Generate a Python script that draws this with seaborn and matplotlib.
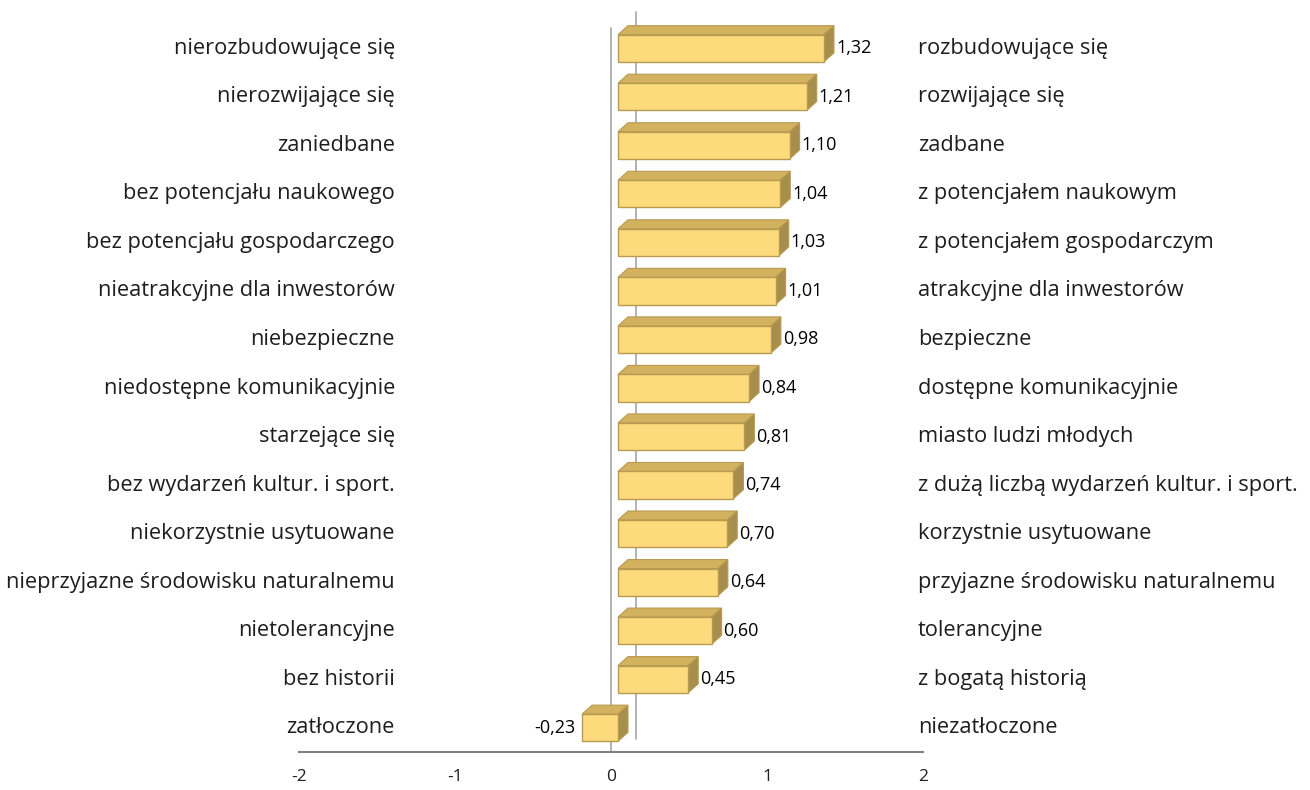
import numpy as np
import pandas as pd
import seaborn as sns
import matplotlib.pyplot as plt
from matplotlib.patches import Polygon
from matplotlib.transforms import Affine2D, IdentityTransform

# Data
left_labels = [
    "nierozbudowujące się", "nierozwijające się", "zaniedbane",
    "bez potencjału naukowego", "bez potencjału gospodarczego",
    "nieatrakcyjne dla inwestorów", "niebezpieczne",
    "niedostępne komunikacyjnie", "starzejące się",
    "bez wydarzeń kultur. i sport.", "niekorzystnie usytuowane",
    "nieprzyjazne środowisku naturalnemu", "nietolerancyjne",
    "bez historii", "zatłoczone",
]
right_labels = [
    "rozbudowujące się", "rozwijające się", "zadbane",
    "z potencjałem naukowym", "z potencjałem gospodarczym",
    "atrakcyjne dla inwestorów", "bezpieczne",
    "dostępne komunikacyjnie", "miasto ludzi młodych",
    "z dużą liczbą wydarzeń kultur. i sport.", "korzystnie usytuowane",
    "przyjazne środowisku naturalnemu", "tolerancyjne",
    "z bogatą historią", "niezatłoczone",
]
scores = [1.32, 1.21, 1.10, 1.04, 1.03, 1.01, 0.98, 0.84, 0.81, 0.74,
          0.70, 0.64, 0.60, 0.45, -0.23]
x_ticks = [-2, -1, 0, 1, 2]

FRONT = "#FDDA7B"
TOP = "#D2B25E"
SIDE = "#A88E4C"
EDGE = "#B89A50"
TEXT = "#1E1E1E"
GRID = "#A6A6A6"

SHIFT = 7      # px, bar offset from the front zero line
DX, DY = 10, 9  # px, bar depth


def main():
    sns.set_style("white")
    plt.rcParams["font.family"] = ["Open Sans", "DejaVu Sans"]

    df = pd.DataFrame({"left": left_labels, "right": right_labels,
                       "score": scores})

    fig = plt.figure(figsize=(13.1, 7.9), dpi=100)
    ax = fig.add_axes([0.2282, 0.0481, 0.4764, 0.9215])

    sns.barplot(df, x="score", y="left", orient="h", color=FRONT,
                saturation=1, width=0.56, edgecolor=EDGE, linewidth=1,
                ax=ax, zorder=3)
    ax.set_xlim(-2, 2)
    ax.set_ylim(len(df) - 0.5, -0.5)

    # back wall zero line and front zero line
    xt = ax.get_xaxis_transform()
    ax.plot([0, 0], [13 / 728, 1 + 12 / 728], color=GRID, lw=1.2,
            transform=xt + Affine2D().translate(25, 0), clip_on=False,
            zorder=1)
    ax.plot([0, 0], [0, 1 - 4 / 728], color=GRID, lw=1.2, transform=xt,
            clip_on=False, zorder=2)

    # 3D faces
    fig.canvas.draw()
    shifted = ax.transData + Affine2D().translate(SHIFT, 0)
    for p in list(ax.patches):
        x0, y0 = p.get_x(), p.get_y()
        w, h = p.get_width(), p.get_height()
        (ax0, ay0), (ax1, ay1) = shifted.transform([(x0, y0), (x0 + w, y0 + h)])
        xl, xr = sorted([ax0, ax1])
        yb, yt = sorted([ay0, ay1])
        p.set_transform(shifted)
        top = [(xl, yt), (xr, yt), (xr + DX, yt + DY), (xl + DX, yt + DY)]
        side = [(xr, yb), (xr, yt), (xr + DX, yt + DY), (xr + DX, yb + DY)]
        for verts, col in [(top, TOP), (side, SIDE)]:
            ax.add_patch(Polygon(verts, closed=True, facecolor=col,
                                 edgecolor=EDGE, lw=0.8,
                                 transform=IdentityTransform(),
                                 clip_on=False, zorder=2.5))

    # value labels
    for i, v in enumerate(df["score"]):
        txt = f"{v:.2f}".replace(".", ",")
        if v >= 0:
            ax.annotate(txt, xy=(v, i), xytext=(SHIFT + DX + 2, 0),
                        textcoords="offset pixels", ha="left", va="center",
                        fontsize=13, color="black")
        else:
            ax.annotate(txt, xy=(v, i), xytext=(0, 0),
                        textcoords="offset pixels", ha="right",
                        va="center", fontsize=13, color="black")

    # side labels
    yt_ = ax.get_yaxis_transform()
    for i, (l, r) in enumerate(zip(df["left"], df["right"])):
        ax.text(0.1538, i, l, transform=yt_, ha="right", va="center",
                fontsize=15.7, color=TEXT)
        ax.text(0.992, i, r, transform=yt_, ha="left", va="center",
                fontsize=15.7, color=TEXT)

    ax.set_yticks([])
    ax.set_ylabel("")
    ax.set_xlabel("")
    ax.set_xticks(x_ticks)
    ax.set_xticklabels([str(t) for t in x_ticks])
    ax.tick_params(axis="x", length=5, width=1.2, color="#808080",
                   labelsize=12.5, labelcolor=TEXT, pad=7, direction="out")
    for s in ["top", "right", "left"]:
        ax.spines[s].set_visible(False)
    ax.spines["bottom"].set_color("#808080")
    ax.spines["bottom"].set_linewidth(1.5)

    fig.savefig("out.png", dpi=100)


if __name__ == "__main__":
    main()
